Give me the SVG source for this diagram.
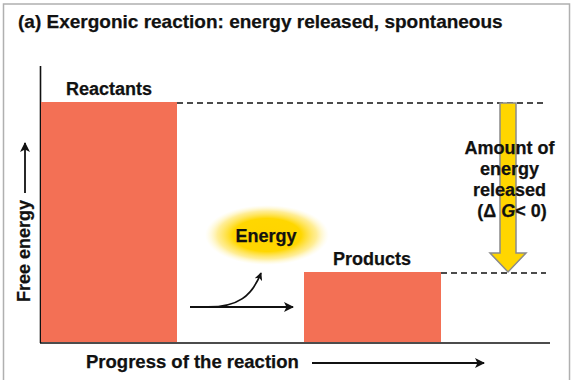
<svg xmlns="http://www.w3.org/2000/svg" width="573" height="380" viewBox="0 0 573 380">
<style>
text{font-family:"Liberation Sans",Arial,Helvetica,sans-serif;font-weight:bold;fill:#111;stroke:#111;stroke-width:0.25}
.bar{fill:#F37055}
.dash{stroke:#111;stroke-width:1.6;stroke-dasharray:6 4;fill:none}
.ax{stroke:#111;stroke-width:1.6;fill:none}
.ln{stroke:#111;stroke-width:1.8;fill:none}
</style>
<defs>
<marker id="ah" viewBox="0 0 10 10" refX="9" refY="5" markerWidth="9" markerHeight="8" markerUnits="userSpaceOnUse" orient="auto">
<path d="M0,0 L10,5 L0,10 L2.5,5 Z" fill="#111"/>
</marker>
<marker id="ah2" viewBox="0 0 10 10" refX="9" refY="5" markerWidth="13" markerHeight="10" markerUnits="userSpaceOnUse" orient="auto">
<path d="M0,0 L10,5 L0,10 L2.5,5 Z" fill="#111"/>
</marker>
<radialGradient id="glow" cx="0.5" cy="0.5" r="0.5">
<stop offset="0" stop-color="#FFD400"/>
<stop offset="0.55" stop-color="#FFD700"/>
<stop offset="0.8" stop-color="#FFE66A" stop-opacity="0.7"/>
<stop offset="1" stop-color="#FFF6C0" stop-opacity="0"/>
</radialGradient>
</defs>
<rect x="3.5" y="4" width="566" height="390" fill="#fff" stroke="#B0B0B0" stroke-width="1.5"/>
<text x="18" y="28" font-size="19">(a) Exergonic reaction: energy released, spontaneous</text>
<g id="axes">
<line class="ax" x1="40.5" y1="66" x2="40.5" y2="343"/>
<line class="ax" x1="40" y1="343" x2="550" y2="343"/>
</g>
<g id="reactants">
<rect class="bar" x="41" y="102" width="136" height="240"/>
<text x="66" y="95" font-size="18">Reactants</text>
</g>
<g id="products">
<rect class="bar" x="304" y="272" width="137" height="70"/>
<text x="333" y="265" font-size="18">Products</text>
</g>
<g id="energy">
<ellipse cx="267" cy="235" rx="62" ry="30" fill="url(#glow)"/>
<text x="266" y="242" font-size="18" text-anchor="middle">Energy</text>
</g>
<g id="connectors">
<line class="dash" x1="177" y1="103" x2="546" y2="103"/>
<line class="dash" x1="441" y1="273" x2="546" y2="273"/>
<line class="ln" x1="190" y1="307" x2="293" y2="307" marker-end="url(#ah2)"/>
<path class="ln" d="M208,307 C238,307 252,296 261,273" marker-end="url(#ah)"/>
<line class="ln" x1="312" y1="363" x2="484" y2="363" marker-end="url(#ah2)"/>
<line class="ln" x1="25" y1="193" x2="25" y2="143" marker-end="url(#ah2)"/>
</g>
<g id="released">
<path d="M500,103 L516,103 L516,253 L526,253 L508,272 L490,253 L500,253 Z" fill="#FFD600" stroke="#8A8A8A" stroke-width="1.5"/>
<text font-size="18" text-anchor="middle">
<tspan x="512" y="154">Amount of</tspan>
<tspan x="512" y="175">energy</tspan>
<tspan x="512" y="196">released</tspan>
<tspan x="512" y="217">(Δ <tspan font-style="italic">G</tspan>&lt; 0)</tspan>
</text>
</g>
<text x="30" y="302" font-size="18" transform="rotate(-90 30 302)">Free energy</text>
<text x="86" y="368" font-size="18.5">Progress of the reaction</text>
</svg>
